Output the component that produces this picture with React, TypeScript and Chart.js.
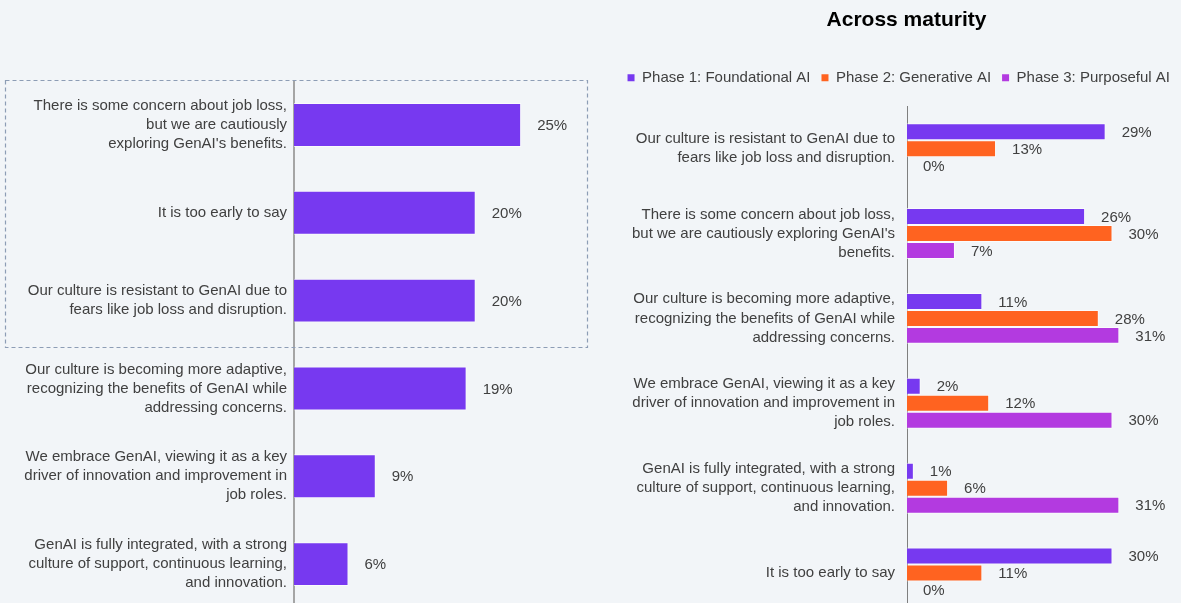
import React, { useEffect, useRef } from "react";
import { Chart, registerables } from "chart.js";

Chart.register(...registerables);

const FONT = "'Liberation Sans', Arial, Helvetica, sans-serif";

const leftCategories: string[][] = [
  ["There is some concern about job loss,", "but we are cautiously", "exploring GenAI's benefits."],
  ["It is too early to say"],
  ["Our culture is resistant to GenAI due to", "fears like job loss and disruption."],
  ["Our culture is becoming more adaptive,", "recognizing the benefits of GenAI while", "addressing concerns."],
  ["We embrace GenAI, viewing it as a key", "driver of innovation and improvement in", "job roles."],
  ["GenAI is fully integrated, with a strong", "culture of support, continuous learning,", "and innovation."],
];
const leftValues = [25, 20, 20, 19, 9, 6];

const rightTitle = "Across maturity";
const rightCategories: string[][] = [
  ["Our culture is resistant to GenAI due to", "fears like job loss and disruption."],
  ["There is some concern about job loss,", "but we are cautiously exploring GenAI's", "benefits."],
  ["Our culture is becoming more adaptive,", "recognizing the benefits of GenAI while", "addressing concerns."],
  ["We embrace GenAI, viewing it as a key", "driver of innovation and improvement in", "job roles."],
  ["GenAI is fully integrated, with a strong", "culture of support, continuous learning,", "and innovation."],
  ["It is too early to say"],
];
const seriesNames = ["Phase 1: Foundational AI", "Phase 2: Generative AI", "Phase 3: Purposeful AI"];
const phase1Values = [29, 26, 11, 2, 1, 30];
const phase2Values = [13, 30, 28, 12, 6, 11];
const phase3Values = [0, 7, 31, 30, 31, 0];

const PURPLE = "#7739F0";
const ORANGE = "#FF6320";
const MAGENTA = "#B33AE0";
const TEXT = "#404040";

const valueLabels = {
  id: "valueLabels",
  afterDatasetsDraw(chart: any) {
    const ctx = chart.ctx;
    ctx.save();
    ctx.font = `15px ${FONT}`;
    ctx.fillStyle = TEXT;
    ctx.textBaseline = "middle";
    ctx.textAlign = "left";
    chart.data.datasets.forEach((ds: any, di: number) => {
      const meta = chart.getDatasetMeta(di);
      meta.data.forEach((el: any, i: number) => {
        ctx.fillText(`${ds.data[i]}%`, el.x + 16, el.y + 1);
      });
    });
    ctx.restore();
  },
};

const dashedBox = {
  id: "dashedBox",
  afterDraw(chart: any) {
    const ctx = chart.ctx;
    const y = chart.scales.y;
    const top = Math.round(chart.chartArea.top) - 0.5;
    const bottom = Math.round((y.getPixelForValue(2) + y.getPixelForValue(3)) / 2) + 2.5;
    ctx.save();
    ctx.setLineDash([4, 3]);
    ctx.strokeStyle = "#8D9DB5";
    ctx.lineWidth = 1.2;
    ctx.strokeRect(5.5, top, 582, bottom - top);
    ctx.restore();
  },
};

const legendSpacing = {
  id: "legendSpacing",
  beforeLayout(chart: any) {
    const legend = chart.legend;
    if (legend && !legend.__patched) {
      const fit = legend.fit;
      legend.fit = function () {
        this.maxWidth = chart.width;
        fit.call(this);
        this.height += 11;
      };
      legend.__patched = true;
    }
  },
  afterLayout(chart: any) {
    const legend = chart.legend;
    if (legend) {
      legend.left = 0;
      legend.width = legend.right;
    }
  },
};

function fixAxis(width: number) {
  return (scale: any) => {
    scale.width = width;
    scale.paddingTop = 0;
    scale.paddingBottom = 0;
  };
}

function LeftChart() {
  const ref = useRef<HTMLCanvasElement>(null);
  useEffect(() => {
    const chart = new Chart(ref.current as HTMLCanvasElement, {
      type: "bar",
      data: {
        labels: leftCategories,
        datasets: [
          {
            label: "All",
            data: leftValues,
            backgroundColor: PURPLE,
            borderColor: "rgba(255,255,255,0.6)",
            borderWidth: 1,
            categoryPercentage: 1,
            barPercentage: 0.5,
          },
        ],
      },
      options: {
        indexAxis: "y",
        animation: false,
        responsive: false,
        layout: { padding: { top: 81, bottom: 12 } },
        plugins: { legend: { display: false }, title: { display: false }, tooltip: { enabled: false } },
        scales: {
          x: { display: false, min: 0, max: 35 },
          y: {
            afterFit: fixAxis(294),
            grid: { display: false, drawTicks: false },
            border: { display: true, color: "#A5A5A5", width: 2 },
            ticks: {
              autoSkip: false,
              padding: 7,
              color: TEXT,
              font: { family: FONT, size: 15, lineHeight: 1.27 },
            },
          },
        },
      },
      plugins: [valueLabels, dashedBox],
    } as any);
    return () => chart.destroy();
  }, []);
  return (
    <canvas
      ref={ref}
      width={612}
      height={620}
      style={{ position: "absolute", left: 0, top: 0, width: 612, height: 620 }}
    />
  );
}

function RightChart() {
  const ref = useRef<HTMLCanvasElement>(null);
  useEffect(() => {
    const colors = [PURPLE, ORANGE, MAGENTA];
    const values = [phase1Values, phase2Values, phase3Values];
    const chart = new Chart(ref.current as HTMLCanvasElement, {
      type: "bar",
      data: {
        labels: rightCategories,
        datasets: seriesNames.map((name, i) => ({
          label: name,
          data: values[i],
          backgroundColor: colors[i],
          borderColor: "rgba(255,255,255,0.6)",
          borderWidth: 1,
          categoryPercentage: 0.6,
          barPercentage: 1,
        })),
      },
      options: {
        indexAxis: "y",
        animation: false,
        responsive: false,
        layout: { padding: { left: 32, bottom: 4.5 } },
        plugins: {
          title: {
            display: true,
            text: rightTitle,
            color: "#000000",
            font: { family: FONT, size: 21, weight: "bold" },
            padding: { top: 8, bottom: 26 },
          },
          legend: {
            display: true,
            align: "end",
            labels: {
              boxWidth: 7,
              boxHeight: 7,
              padding: 11,
              color: TEXT,
              font: { family: FONT, size: 15 },
              generateLabels(chart: any) {
                const items = (Chart.defaults.plugins.legend.labels as any).generateLabels(chart);
                return items.map((it: any) => ({ ...it, lineWidth: 0 }));
              },
            },
          },
          tooltip: { enabled: false },
        },
        scales: {
          x: { display: false, min: 0, max: 40 },
          y: {
            afterFit: fixAxis(275),
            grid: { display: false, drawTicks: false },
            border: { display: true, color: "#7F7F7F", width: 1 },
            ticks: {
              autoSkip: false,
              padding: 12,
              color: TEXT,
              font: { family: FONT, size: 15, lineHeight: 1.27 },
            },
          },
        },
      },
      plugins: [valueLabels, legendSpacing],
    } as any);
    return () => chart.destroy();
  }, []);
  return (
    <canvas
      ref={ref}
      width={581}
      height={620}
      style={{ position: "absolute", left: 600, top: 0, width: 581, height: 620 }}
    />
  );
}

export default function App() {
  return (
    <div
      style={{
        position: "fixed",
        left: 0,
        top: 0,
        width: 1181,
        height: 603,
        overflow: "hidden",
        background: "#F2F5F8",
      }}
    >
      <LeftChart />
      <RightChart />
    </div>
  );
}
